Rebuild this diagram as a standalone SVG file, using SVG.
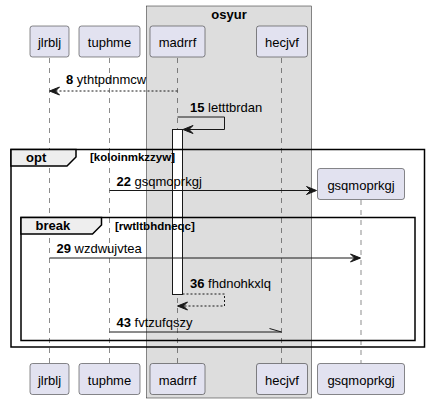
<svg xmlns="http://www.w3.org/2000/svg" width="429" height="404" viewBox="0 0 429 404">
<style>
text{font-family:"Liberation Sans",Arial,sans-serif;font-size:13px;fill:#000}
.b{font-weight:bold}
.c{font-weight:bold;font-size:11.5px}
.p rect{fill:#E2E2F0;stroke:#181818;stroke-width:0.5}
.life{stroke:#181818;stroke-width:0.5;stroke-dasharray:5,5}
.msg{stroke:#181818;stroke-width:1;fill:none}
.dash{stroke-dasharray:2,2}
.frame{fill:none;stroke:#000;stroke-width:1.5}
.tab{fill:#EEEEEE;stroke:#000;stroke-width:1.5}
.ah{fill:#181818;stroke:#181818;stroke-width:1}
</style>
<g id="box-osyur">
<rect x="146.5" y="6" width="165" height="392" fill="#DDDDDD" stroke="#181818" stroke-width="0.5"/>
<text class="b" x="229" y="19" text-anchor="middle">osyur</text>
</g>
<g id="lifelines">
<line class="life" x1="49.5" y1="58" x2="49.5" y2="363"/>
<line class="life" x1="109.5" y1="58" x2="109.5" y2="363"/>
<line class="life" x1="177.5" y1="58" x2="177.5" y2="363"/>
<line class="life" x1="281.5" y1="58" x2="281.5" y2="363"/>
<line class="life" x1="361" y1="200" x2="361" y2="363"/>
</g>
<g id="p-jlrblj" class="p">
<rect x="30" y="26" width="39" height="31" rx="2.5"/><text x="49.5" y="47" text-anchor="middle">jlrblj</text>
<rect x="30" y="363.5" width="39" height="31" rx="2.5"/><text x="49.5" y="384.5" text-anchor="middle">jlrblj</text>
</g>
<g id="p-tuphme" class="p">
<rect x="79" y="26" width="61" height="31" rx="2.5"/><text x="109.5" y="47" text-anchor="middle">tuphme</text>
<rect x="79" y="363.5" width="61" height="31" rx="2.5"/><text x="109.5" y="384.5" text-anchor="middle">tuphme</text>
</g>
<g id="p-madrrf" class="p">
<rect x="150" y="26" width="55" height="31" rx="2.5"/><text x="177.5" y="47" text-anchor="middle">madrrf</text>
<rect x="150" y="363.5" width="55" height="31" rx="2.5"/><text x="177.5" y="384.5" text-anchor="middle">madrrf</text>
</g>
<g id="p-hecjvf" class="p">
<rect x="256.5" y="26" width="51" height="31" rx="2.5"/><text x="282" y="47" text-anchor="middle">hecjvf</text>
<rect x="256.5" y="363.5" width="51" height="31" rx="2.5"/><text x="282" y="384.5" text-anchor="middle">hecjvf</text>
</g>
<g id="p-gsqmoprkgj" class="p">
<rect x="317.5" y="168.5" width="87" height="31" rx="2.5"/><text x="361" y="189.5" text-anchor="middle">gsqmoprkgj</text>
<rect x="317.5" y="363.5" width="87" height="31" rx="2.5"/><text x="361" y="384.5" text-anchor="middle">gsqmoprkgj</text>
</g>
<g id="activation">
<rect x="172.5" y="129.5" width="10" height="165" fill="#FFFFFF" stroke="#181818" stroke-width="1"/>
</g>
<g id="frames">
<rect class="frame" x="11" y="149.5" width="413.5" height="197.5"/>
<path class="tab" d="M11,149.5 H76 V157 L67,166 H11 Z"/>
<text class="b" x="26" y="162">opt</text>
<text class="c" x="90" y="161">[koloinmkzzyw]</text>
<rect class="frame" x="21" y="217.5" width="394" height="123"/>
<path class="tab" d="M21,217.5 H101.5 V225 L92.5,234 H21 Z"/>
<text class="b" x="35.5" y="230">break</text>
<text class="c" x="115" y="230">[rwtltbhdneqc]</text>
</g>
<g id="connectors">
<line class="msg dash" x1="177.5" y1="91" x2="51" y2="91"/>
<polygon class="ah" points="49.5,91 59.5,87 55.5,91 59.5,95"/>
<text x="66" y="84"><tspan class="b">8</tspan> ythtpdnmcw</text>

<polyline class="msg" points="177.5,117 224.5,117 224.5,129.5 184,129.5"/>
<polygon class="ah" points="183,129.5 193,125.5 189,129.5 193,133.5"/>
<text x="190" y="112"><tspan class="b">15</tspan> letttbrdan</text>

<line class="msg" x1="109.5" y1="190.5" x2="315" y2="190.5"/>
<polygon class="ah" points="316.5,190.5 306.5,186.5 310.5,190.5 306.5,194.5"/>
<text x="116.5" y="185.5"><tspan class="b">22</tspan> gsqmoprkgj</text>

<line class="msg" x1="49.5" y1="258" x2="359" y2="258"/>
<polygon class="ah" points="360.5,258 350.5,254 354.5,258 350.5,262"/>
<text x="56.5" y="252.5"><tspan class="b">29</tspan> wzdwujvtea</text>

<polyline class="msg dash" points="182.5,294 224.5,294 224.5,306 179,306"/>
<polygon class="ah" points="177.5,306 187.5,302 183.5,306 187.5,310"/>
<text x="190" y="288"><tspan class="b">36</tspan> fhdnohkxlq</text>

<line class="msg" x1="109.5" y1="332" x2="281.5" y2="332"/>
<line class="msg" x1="269.5" y1="328.5" x2="281.5" y2="332"/>
<text x="116.5" y="327"><tspan class="b">43</tspan> fvtzufqszy</text>
</g>
</svg>
